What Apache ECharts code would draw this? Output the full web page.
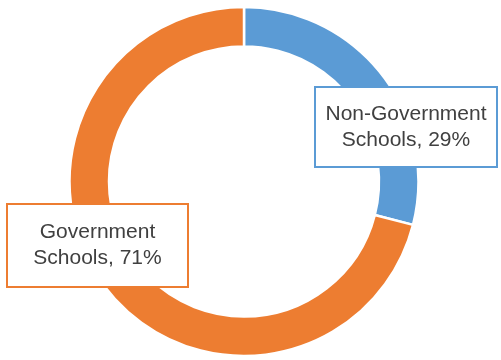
<!DOCTYPE html>
<html>
<head>
<meta charset="utf-8">
<script src="https://cdn.jsdelivr.net/npm/echarts@6/dist/echarts.min.js"></script>
<style>html,body{margin:0;padding:0;background:#fff;}#c{width:501px;height:360px;}</style>
</head>
<body>
<div id="c"></div>
<script>
var categories = ['Non-Government Schools', 'Government Schools'];
var values = [29, 71];
var colors = ['#5B9BD5', '#ED7D31'];

var labelBoxes = [
  {x: 406, y: 127, w: 182, h: 80},
  {x: 97.5, y: 245.5, w: 181, h: 83}
];

var chart = echarts.init(document.getElementById('c'));
var data = categories.map(function (n, i) {
  var b = labelBoxes[i];
  return {
    name: n,
    value: values[i],
    itemStyle: {color: colors[i]},
    label: {
      borderColor: colors[i],
      width: b.w - 4,
      height: 52,
      padding: [(b.h - 52) / 2 - 1, 1]
    }
  };
});
chart.setOption({
  animation: false,
  series: [{
    type: 'pie',
    center: [244, 181.5],
    radius: [135, 174.5],
    startAngle: 90,
    clockwise: true,
    itemStyle: {borderColor: '#fff', borderWidth: 2.5},
    labelLine: {show: false},
    label: {
      show: true,
      position: 'outside',
      formatter: function (p) { return p.name.replace(' ', '\n') + ', ' + Math.round(p.percent) + '%'; },
      fontFamily: 'Liberation Sans, Arial, sans-serif',
      fontSize: 21,
      lineHeight: 26,
      color: '#404040',
      backgroundColor: '#fff',
      borderWidth: 2,
      align: 'center',
      verticalAlign: 'middle'
    },
    labelLayout: function (params) {
      var b = labelBoxes[params.dataIndex];
      return {x: b.x, y: b.y, align: 'center', verticalAlign: 'middle'};
    },
    data: data
  }]
});
</script>
</body>
</html>
